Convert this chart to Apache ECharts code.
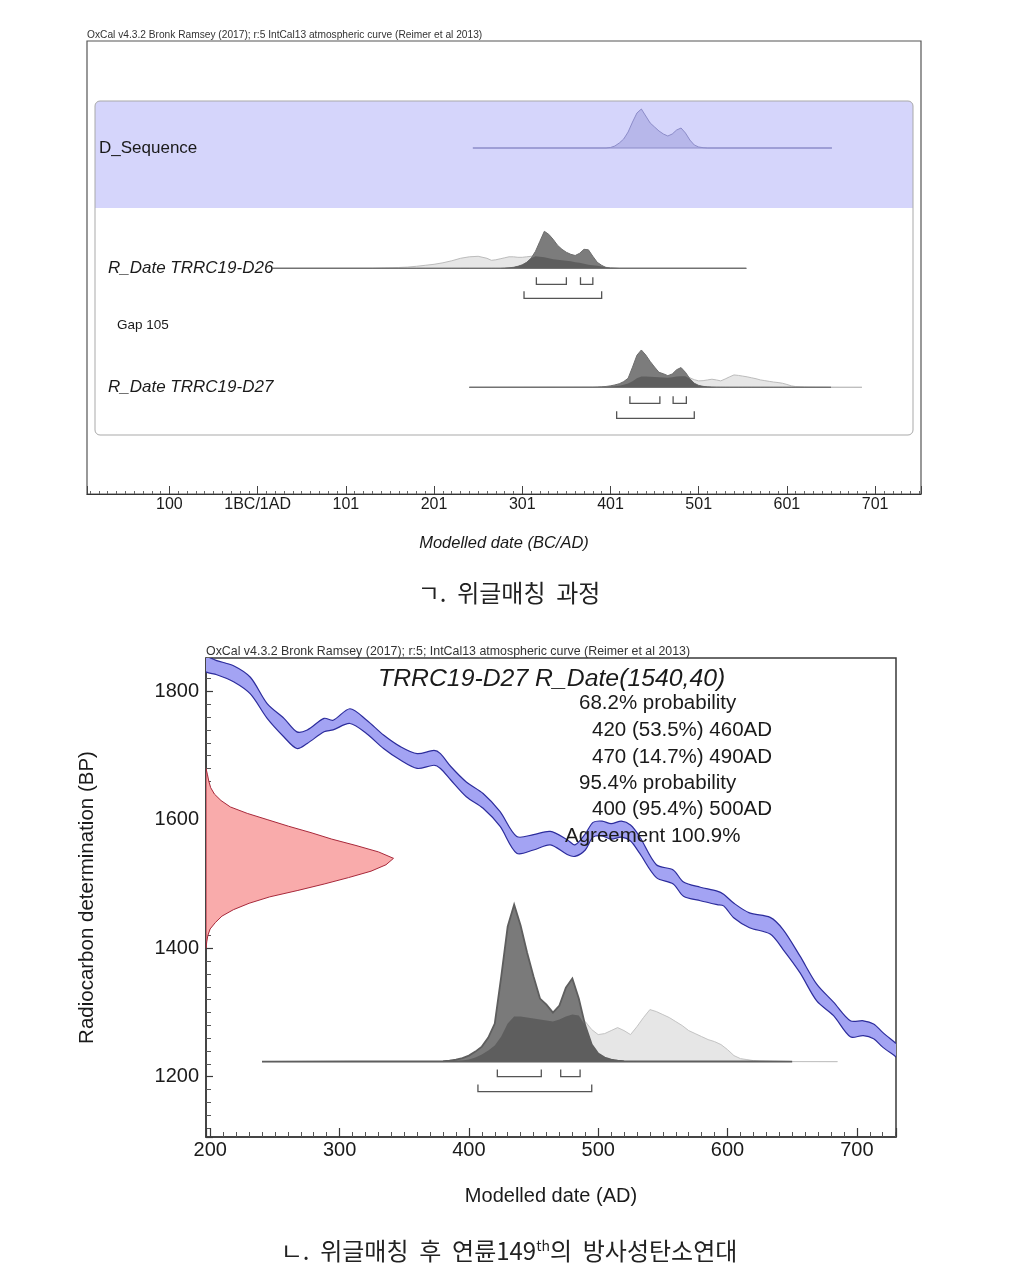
<!DOCTYPE html>
<html><head><meta charset="utf-8">
<script src="https://cdn.jsdelivr.net/npm/echarts@6/dist/echarts.min.js"></script>
<style>html,body{margin:0;padding:0;background:#fff}#c{width:1009px;height:1269px}</style>
</head><body><div id="c"></div>
<script>
// ---------- DATA ----------
// D_Sequence (top panel), relative heights
const dSeqYears = [244, 395, 400, 405, 410, 415, 420, 425, 430, 435, 440, 445, 450, 455, 460, 465, 470, 475, 480, 485, 490, 495, 500, 505, 510, 651];
const dSeqValues = [0, 0, 0.5, 2, 5, 9, 16, 26, 35, 39, 32, 25, 21, 17, 14, 12, 14, 18, 20, 15, 8, 3, 1, 0.3, 0, 0];

// R_Date TRRC19-D26
const d26Years = [17, 130, 140, 150, 160, 170, 180, 190, 200, 210, 220, 230, 240, 250, 260,
  265, 270, 275, 280, 285, 290, 295, 300, 305, 310, 315, 320, 325, 330, 335, 340, 345, 350, 355, 360, 365, 370, 375, 380, 385, 390, 395, 400, 410, 554];
const d26Likelihood = [0, 0, 0.3, 0.5, 0.8, 1.2, 2, 3, 4, 5.5, 7.5, 10, 11.5, 12, 10,
  8, 8.5, 9.5, 10.5, 11.5, 11.5, 11, 11, 11.5, 12, 12, 11.5, 11, 10, 9, 8.5, 8, 7.5, 7, 6, 5.5, 4.5, 3.5, 3, 2.5, 1.8, 1, 0.5, 0, 0];
const d26Posterior = [0, 0, 0, 0, 0, 0, 0, 0, 0, 0, 0, 0, 0, 0, 0,
  0, 0, 0, 0.2, 0.5, 1, 2, 3.5, 6, 10, 17, 27, 37, 34, 29, 23, 19, 16, 14, 12.8, 15, 19, 18.5, 12, 6, 3, 0.7, 0.3, 0, 0];
const d26Range68 = [[316, 350], [366, 380]];
const d26Range95 = [[302, 390]];

// R_Date TRRC19-D27
const d27Years = [240, 380, 385, 390, 395, 400, 405, 410, 415, 420, 425, 430, 435, 440, 445, 450, 455, 460, 465, 470,
  475, 480, 485, 490, 495, 500, 505, 510, 515, 520, 525, 530, 535, 540, 545, 550, 555, 560, 565, 570,
  575, 580, 585, 590, 595, 600, 605, 610, 615, 620, 625, 650, 685];
const d27Posterior = [0, 0.5, 1, 2, 3.5, 6, 10, 15, 24, 38, 85, 135, 157, 136, 109, 85, 63, 57, 49, 56,
  74, 83, 63, 36, 17, 8, 4, 2, 1, 0.5, 0.3, 0.2, 0.2, 0.2, 0.2, 0.2, 0.2, 0.2, 0.1, 0.1,
  0.1, 0.1, 0.1, 0.1, 0.1, 0.1, 0.1, 0.1, 0.1, 0.1, 0.1, 0, null];
const d27Likelihood = [0, 0, 0.2, 0.5, 1, 2, 4, 7, 11, 16, 25, 38, 45, 45, 44, 43, 42, 41, 40, 42,
  45, 47, 46, 40, 32, 27, 28, 31, 34, 31, 27, 35, 44, 52, 50, 47, 44, 40, 36, 31,
  28, 25, 22, 20, 17, 12, 6, 3, 2, 1, 0.5, 0.1, 0];
const d27Range68 = [[422, 456], [471, 486]];
const d27Range95 = [[407, 495]];

// IntCal13 band (bottom panel)
const calYears = [192, 197, 205, 218, 231, 244, 257, 267, 275, 288, 295, 308, 321, 334, 347, 360, 373, 378, 386, 398, 411, 424, 437, 450, 463, 476, 482, 490, 496, 503, 510, 518, 525, 532, 545, 558, 566, 579, 592, 597, 605, 617, 633, 643, 656, 669, 682, 695, 705, 713, 720, 729, 735];
const calUpper = [1862, 1855, 1848, 1840, 1822, 1781, 1758, 1737, 1740, 1758, 1755, 1773, 1755, 1732, 1714, 1703, 1708, 1703, 1683, 1659, 1641, 1613, 1574, 1577, 1582, 1569, 1561, 1578, 1596, 1598, 1594, 1598, 1592, 1574, 1530, 1522, 1503, 1495, 1489, 1484, 1470, 1455, 1448, 1429, 1388, 1344, 1316, 1287, 1287, 1282, 1269, 1254, 1244];
const calLower = [1838, 1830, 1826, 1815, 1796, 1758, 1729, 1711, 1719, 1737, 1740, 1750, 1734, 1711, 1693, 1680, 1685, 1680, 1662, 1636, 1618, 1590, 1548, 1553, 1561, 1546, 1543, 1553, 1573, 1575, 1570, 1573, 1567, 1548, 1510, 1500, 1481, 1474, 1468, 1466, 1447, 1432, 1422, 1398, 1362, 1318, 1295, 1262, 1264, 1259, 1246, 1233, 1224];

// Radiocarbon determination 1540±40 (relative density by BP)
const redBP = [1680, 1670, 1660, 1650, 1640, 1630, 1620, 1610, 1600, 1590, 1580, 1570, 1560, 1550, 1540, 1530, 1520, 1510, 1500, 1490, 1480, 1470, 1460, 1450, 1440, 1430, 1420, 1410, 1400];
const redDensity = [0, 0.008, 0.015, 0.025, 0.045, 0.08, 0.13, 0.22, 0.33, 0.44, 0.56, 0.67, 0.8, 0.92, 1.0, 0.96, 0.88, 0.76, 0.63, 0.49, 0.34, 0.23, 0.146, 0.085, 0.05, 0.022, 0.01, 0.004, 0];

// Tick labels
const topTickLabel = v => v === 0 ? '1BC/1AD' : (v < 0 ? String(-v) : String(v + 1));
const yTicksBottom = [1200, 1400, 1600, 1800];

// ---------- LAYOUT ----------
const FONT = "'Liberation Sans', Arial, sans-serif";
const KFONT = "'Noto Sans CJK KR', 'Noto Sans CJK SC', sans-serif";
const TOP_MIN = -193.4, TOP_MAX = 752;
const BOT_XMIN = 196.7, BOT_XMAX = 730.3, BOT_YMIN = 1106, BOT_YMAX = 1852;
const BASE_DSEQ = 346, BASE_D26 = 225.7, BASE_D27 = 106.7;
const TOP_D27_SCALE = 0.2376;
const BOT_BASE = 1223.4, BOT_SCALE = 1 / 0.6417;
const RED_WIDTH = 145;

function overlap(a, b) { return a.map((v, i) => (v == null || b[i] == null) ? null : Math.min(v, b[i])); }

function densityPoly(xs, vals, base, scale, xi, style, z) {
  return {
    type: 'custom', xAxisIndex: xi, yAxisIndex: xi, clip: true, silent: true, z: z || 2,
    data: xs.map((x, i) => [x, vals[i] == null ? base : base + vals[i] * scale]),
    renderItem(params, api) {
      if (params.dataIndex !== 0) return null;
      const pts = []; let first = null, last = null;
      for (let i = 0; i < xs.length; i++) {
        if (vals[i] == null) continue;
        if (first === null) first = xs[i];
        last = xs[i];
        pts.push(api.coord([xs[i], base + vals[i] * scale]));
      }
      pts.push(api.coord([last, base]));
      pts.push(api.coord([first, base]));
      return { type: 'polygon', shape: { points: pts }, style: style };
    }
  };
}

function bandPoly(xs, ups, lows, xi, style) {
  return {
    type: 'custom', xAxisIndex: xi, yAxisIndex: xi, clip: true, silent: true, z: 1,
    data: xs.map((x, i) => [x, ups[i], lows[i]]),
    renderItem(params, api) {
      if (params.dataIndex !== 0) return null;
      const pts = [];
      for (let i = 0; i < xs.length; i++) pts.push(api.coord([xs[i], ups[i]]));
      for (let i = xs.length - 1; i >= 0; i--) pts.push(api.coord([xs[i], lows[i]]));
      return { type: 'polygon', shape: { points: pts, smooth: 0.3 }, style: style };
    }
  };
}

function redPoly(xi) {
  return {
    type: 'custom', xAxisIndex: xi, yAxisIndex: xi, clip: true, silent: true, z: 3,
    data: redBP.map((b, i) => [BOT_XMIN + redDensity[i] * RED_WIDTH, b]),
    renderItem(params, api) {
      if (params.dataIndex !== 0) return null;
      const pts = redBP.map((b, i) => api.coord([BOT_XMIN + redDensity[i] * RED_WIDTH, b]));
      pts.push(api.coord([BOT_XMIN, redBP[redBP.length - 1]]));
      pts.push(api.coord([BOT_XMIN, redBP[0]]));
      return { type: 'polygon', shape: { points: pts }, style: { fill: '#f9abab', stroke: '#a8283a', lineWidth: 1 } };
    }
  };
}

function brackets(r68, r95, base, xi, off1, off2) {
  const data = r68.map(r => [r[0], r[1], 0]).concat(r95.map(r => [r[0], r[1], 1]));
  return {
    type: 'custom', xAxisIndex: xi, yAxisIndex: xi, silent: true, z: 4,
    data: data,
    renderItem(params, api) {
      const a = api.coord([api.value(0), base]);
      const b = api.coord([api.value(1), base]);
      const y = a[1] + (api.value(2) === 0 ? off1 : off2);
      return { type: 'polyline', shape: { points: [[a[0], y - 7], [a[0], y], [b[0], y], [b[0], y - 7]] },
        style: { stroke: '#555', lineWidth: 1.3, fill: null } };
    }
  };
}

const likStyle = { fill: '#e6e6e6', stroke: '#bcbcbc', lineWidth: 1 };
const postStyle = { fill: '#7c7c7c', stroke: '#6e6e6e', lineWidth: 1 };
const ovStyle = { fill: '#5e5e5e', stroke: null, lineWidth: 0 };

const series = [
  // top panel
  densityPoly(dSeqYears, dSeqValues, BASE_DSEQ, 1, 0, { fill: '#b7b7ea', stroke: '#8c8cc9', lineWidth: 1 }),
  densityPoly(d26Years, d26Likelihood, BASE_D26, 1, 0, likStyle),
  densityPoly(d26Years, d26Posterior, BASE_D26, 1, 0, postStyle),
  densityPoly(d26Years, overlap(d26Likelihood, d26Posterior), BASE_D26, 1, 0, ovStyle),
  densityPoly(d27Years, d27Likelihood, BASE_D27, TOP_D27_SCALE, 0, likStyle),
  densityPoly(d27Years, d27Posterior, BASE_D27, TOP_D27_SCALE, 0, postStyle),
  densityPoly(d27Years, overlap(d27Likelihood, d27Posterior), BASE_D27, TOP_D27_SCALE, 0, ovStyle),
  brackets(d26Range68, d26Range95, BASE_D26, 0, 16, 30),
  brackets(d27Range68, d27Range95, BASE_D27, 0, 16, 31),
  // bottom panel
  bandPoly(calYears, calUpper, calLower, 1, { fill: '#a3a3f3', stroke: '#2c2c9c', lineWidth: 1.2 }),
  redPoly(1),
  densityPoly(d27Years, d27Likelihood, BOT_BASE, BOT_SCALE, 1, { fill: '#e6e6e6', stroke: '#c4c4c4', lineWidth: 1 }),
  densityPoly(d27Years, d27Posterior, BOT_BASE, BOT_SCALE, 1, { fill: '#7a7a7a', stroke: '#5e5e5e', lineWidth: 1.8 }),
  densityPoly(d27Years, overlap(d27Likelihood, d27Posterior), BOT_BASE, BOT_SCALE, 1, ovStyle),
  brackets(d27Range68, d27Range95, BOT_BASE, 1, 15, 30)
];

function txt(x, y, text, size, opts) {
  opts = opts || {};
  return {
    type: 'text', x: x, y: y, z: opts.z || 50, silent: true,
    style: {
      text: text, fontSize: size, fontFamily: opts.family || FONT, fontStyle: opts.italic ? 'italic' : 'normal',
      fill: opts.color || '#1a1a1a', align: opts.align || 'left', textAlign: opts.align || 'left',
      verticalAlign: 'middle', textVerticalAlign: 'middle', rich: opts.rich
    }
  };
}

const graphics = [
  // top panel boxes
  { type: 'rect', z: 0, silent: true, shape: { x: 95, y: 101, width: 818, height: 107, r: [5, 5, 0, 0] }, style: { fill: '#d5d5fb' } },
  { type: 'rect', z: 0, silent: true, shape: { x: 95, y: 101, width: 818, height: 334, r: 5 }, style: { fill: null, stroke: '#a9a9a9', lineWidth: 1 } },
  txt(87, 35, 'OxCal v4.3.2 Bronk Ramsey (2017); r:5 IntCal13 atmospheric curve (Reimer et al 2013)', 10.2, { color: '#333' }),
  txt(99, 148, 'D_Sequence', 17),
  txt(108, 268, 'R_Date TRRC19-D26', 17, { italic: true }),
  txt(117, 325, 'Gap 105', 13.5),
  txt(108, 387, 'R_Date TRRC19-D27', 17, { italic: true }),
  txt(509, 593, 'ㄱ.  위글매칭  과정', 24, { family: KFONT, align: 'center', color: '#222' }),
  // bottom panel texts
  txt(206, 652, 'OxCal v4.3.2 Bronk Ramsey (2017); r:5; IntCal13 atmospheric curve (Reimer et al 2013)', 12.4, { color: '#333' }),
  txt(378, 679, 'TRRC19-D27 R_Date(1540,40)', 24.8, { italic: true }),
  txt(579, 703, '68.2% probability', 20.5),
  txt(592, 730, '420 (53.5%) 460AD', 20.5),
  txt(592, 757, '470 (14.7%) 490AD', 20.5),
  txt(579, 783, '95.4% probability', 20.5),
  txt(592, 809, '400 (95.4%) 500AD', 20.5),
  txt(565, 836, 'Agreement 100.9%', 20.5),
  txt(509, 1251, '{a|ㄴ.  위글매칭  후  연륜149}{s|th}{a|의  방사성탄소연대}', 24, {
    family: KFONT, align: 'center', color: '#222',
    rich: { a: { fontSize: 24, fontFamily: KFONT, fill: '#222' }, s: { fontSize: 14, fontFamily: KFONT, fill: '#222', verticalAlign: 'top' } }
  })
];

const option = {
  backgroundColor: '#fff',
  animation: false,
  grid: [
    { left: 87, right: 88, top: 41, bottom: 775, show: true, borderColor: '#555', borderWidth: 1.2, backgroundColor: 'transparent' },
    { left: 206, right: 113, top: 658, bottom: 132, show: true, borderColor: '#3a3a3a', borderWidth: 1.5, backgroundColor: 'transparent' }
  ],
  xAxis: [
    {
      gridIndex: 0, type: 'value', min: TOP_MIN, max: TOP_MAX, splitNumber: 9,
      name: 'Modelled date (BC/AD)', nameLocation: 'middle', nameGap: 41,
      nameTextStyle: { fontFamily: FONT, fontSize: 16.5, fontStyle: 'italic', color: '#1a1a1a' },
      axisLine: { lineStyle: { color: '#333', width: 1.2 } },
      axisTick: { inside: true, length: 8, lineStyle: { color: '#444' } },
      minorTick: { show: true, splitNumber: 10, length: 3, lineStyle: { color: '#666' } },
      axisLabel: { formatter: topTickLabel, fontFamily: FONT, fontSize: 16, color: '#1a1a1a', margin: 3, showMinLabel: false, showMaxLabel: false },
      splitLine: { show: false }
    },
    {
      gridIndex: 1, type: 'value', min: BOT_XMIN, max: BOT_XMAX, splitNumber: 5,
      name: 'Modelled date (AD)', nameLocation: 'middle', nameGap: 49,
      nameTextStyle: { fontFamily: FONT, fontSize: 20, color: '#1a1a1a' },
      axisLine: { lineStyle: { color: '#3a3a3a', width: 1.5 } },
      axisTick: { inside: true, length: 9, lineStyle: { color: '#3a3a3a', width: 1.2 } },
      minorTick: { show: true, splitNumber: 10, length: 5, lineStyle: { color: '#555' } },
      axisLabel: { fontFamily: FONT, fontSize: 20, color: '#1a1a1a', margin: 3, showMinLabel: false, showMaxLabel: false },
      splitLine: { show: false }
    }
  ],
  yAxis: [
    { gridIndex: 0, type: 'value', min: 0, max: 453, show: false, splitLine: { show: false } },
    {
      gridIndex: 1, type: 'value', min: BOT_YMIN, max: BOT_YMAX, splitNumber: 4,
      name: 'Radiocarbon determination (BP)', nameLocation: 'middle', nameGap: 108,
      nameTextStyle: { fontFamily: FONT, fontSize: 20.5, color: '#1a1a1a' },
      axisLine: { lineStyle: { color: '#3a3a3a', width: 1.5 } },
      axisTick: { inside: true, length: 7, lineStyle: { color: '#3a3a3a', width: 1.2 } },
      minorTick: { show: true, splitNumber: 10, length: 5, lineStyle: { color: '#555' } },
      axisLabel: { fontFamily: FONT, fontSize: 20, color: '#1a1a1a', margin: 7, showMinLabel: false, showMaxLabel: false,
        formatter: v => yTicksBottom.indexOf(v) >= 0 ? String(v) : '' },
      splitLine: { show: false }
    }
  ],
  graphic: { elements: graphics },
  series: series
};

const chart = echarts.init(document.getElementById('c'), null, { renderer: 'canvas' });
chart.setOption(option);
</script></body></html>
